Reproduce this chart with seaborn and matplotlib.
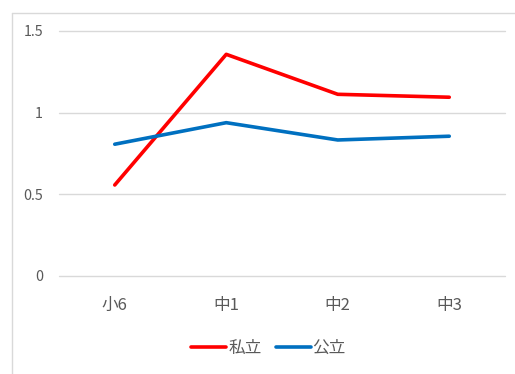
import matplotlib
matplotlib.use("Agg")
import matplotlib.pyplot as plt
import seaborn as sns
import pandas as pd
from matplotlib.lines import Line2D

categories = ["小6", "中1", "中2", "中3"]
series_names = ["私立", "公立"]
private_vals = [0.556, 1.357, 1.112, 1.094]
public_vals = [0.806, 0.938, 0.832, 0.855]
y_ticks = [0, 0.5, 1, 1.5]
y_tick_labels = ["0", "0.5", "1", "1.5"]
colors = ["#FF0000", "#0070C0"]

df = pd.DataFrame({
    "cat": categories * 2,
    "val": private_vals + public_vals,
    "series": [series_names[0]] * 4 + [series_names[1]] * 4,
})

sns.set_theme(style="white")
plt.rcParams["font.family"] = ["Noto Sans CJK JP", "DejaVu Sans"]

W, H = 515, 374
fig = plt.figure(figsize=(W / 100, H / 100), dpi=100)
ax = fig.add_axes([59 / W, 1 - 275.7 / H, 446 / W, (275.7 - 31) / H])

for yv in y_ticks:
    ax.axhline(yv, color="#D9D9D9", lw=1.0, zorder=0, clip_on=False)

sns.lineplot(data=df, x="cat", y="val", hue="series", palette=colors,
             sort=False, lw=2.6, ax=ax, legend=False, zorder=3)
for ln in ax.get_lines():
    ln.set_solid_capstyle("round")

ax.set_xlim(-0.5, 3.5)
ax.set_ylim(0, 1.5)
ax.set_yticks(y_ticks)
ax.set_yticklabels(y_tick_labels)
ax.set_xticks(range(len(categories)))
ax.set_xticklabels(categories)
ax.tick_params(axis="both", length=0, labelcolor="#595959")
ax.tick_params(axis="y", pad=11.5, labelsize=10.3)
ax.tick_params(axis="x", pad=15, labelsize=12)
ax.set_xlabel("")
ax.set_ylabel("")
for s in ax.spines.values():
    s.set_visible(False)
ax.set_facecolor("none")

handles = [Line2D([0], [0], color=c, lw=2.6, solid_capstyle="round") for c in colors]
fig.legend(handles, series_names, loc="center", bbox_to_anchor=(268.5 / W, 1 - 348 / H),
           ncol=2, frameon=False, fontsize=12, labelcolor="#595959",
           handlelength=2.1, handletextpad=0.12, columnspacing=0.85)

# outer chart border (partially visible)
fig.add_artist(Line2D([12 / W, 12 / W], [0, 1 - 12.5 / H], color="#D9D9D9", lw=1.0,
                      transform=fig.transFigure))
fig.add_artist(Line2D([12 / W, 1], [1 - 12.5 / H, 1 - 12.5 / H], color="#D9D9D9", lw=1.0,
                      transform=fig.transFigure))

fig.savefig("out.png", dpi=100, facecolor="white")
